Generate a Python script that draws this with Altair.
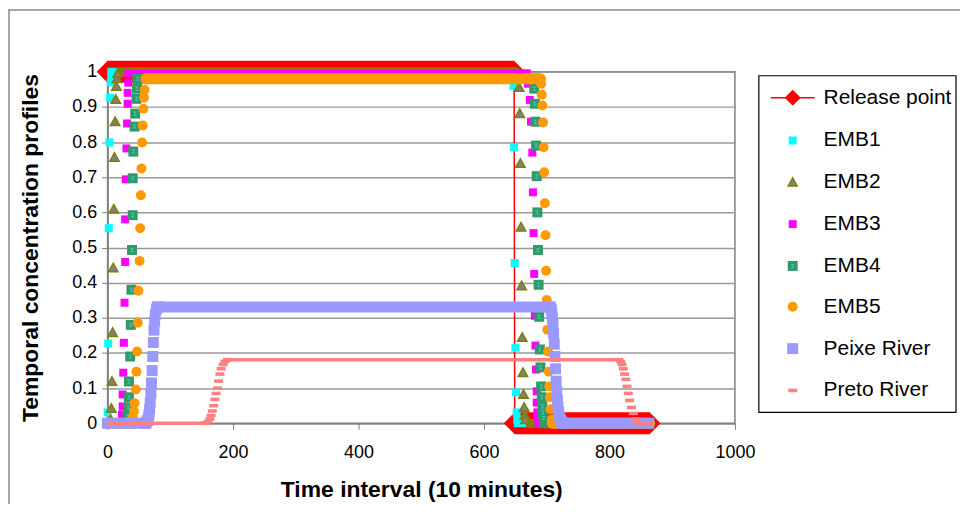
import altair as alt
import pandas as pd

# ---------------- data ----------------
# Release point (line with diamonds): plateau at 1, drop, then 0
release_x = [0, 648, 649, 864]
release_y = [1.0, 1.0, 0.0, 0.0]
release_flat = [(0, 648, 1.0), (649, 864, 0.0)]

emb1_x = [0, 1, 2, 3, 4, 5, 6, 646, 647, 648, 649, 650, 651, 652, 653]
emb1_y = [0.031, 0.227, 0.555, 0.799, 0.926, 0.97, 0.99, 0.99, 0.96, 0.785, 0.456, 0.215, 0.088, 0.031, 0.01]
emb1_flat = [(6, 646, 1.0), (654, 864, 0.0)]

emb2_x = [5, 6, 7, 8, 9, 10, 11, 12, 13, 14, 15, 16,
          655, 656, 657, 658, 659, 660, 661, 662, 663, 664, 665, 666]
emb2_y = [0.01, 0.042, 0.119, 0.258, 0.442, 0.609, 0.756, 0.858, 0.921, 0.958, 0.98, 0.995,
          0.995, 0.955, 0.881, 0.739, 0.558, 0.391, 0.244, 0.144, 0.082, 0.045, 0.022, 0.01]
emb2_flat = [(0, 5, 0.0), (16, 655, 1.0), (667, 864, 0.0)]

emb3_x = [23, 24, 24, 25, 26, 27, 28, 28, 29, 30, 31, 32, 32, 33,
          668, 670, 673, 675, 677, 678, 679, 680, 681, 682, 683, 684, 684, 685, 686]
emb3_y = [0.025, 0.048, 0.082, 0.144, 0.229, 0.343, 0.459, 0.58, 0.694, 0.782, 0.853, 0.909, 0.94, 0.969,
          0.995, 0.966, 0.92, 0.858, 0.77, 0.657, 0.541, 0.425, 0.306, 0.221, 0.153, 0.091, 0.059, 0.031, 0.015]
emb3_flat = [(0, 23, 0.0), (33, 668, 0.995), (687, 864, 0.0)]

emb4_x = [32, 33, 34, 34, 36, 37, 38, 39, 40, 40, 41, 43, 44, 46, 47, 48,
          679, 680, 681, 682, 683, 684, 685, 686, 687, 688, 689, 690, 691, 692, 693, 694, 695]
emb4_y = [0.02, 0.045, 0.074, 0.119, 0.19, 0.28, 0.38, 0.493, 0.592, 0.697, 0.773, 0.844, 0.881, 0.923, 0.952, 0.98,
          0.98, 0.952, 0.909, 0.858, 0.79, 0.703, 0.6, 0.493, 0.394, 0.303, 0.21, 0.159, 0.105, 0.074, 0.048, 0.031, 0.015]
emb4_flat = [(0, 32, 0.0), (48, 679, 0.98), (696, 864, 0.0)]

emb5_x = [40, 42, 43, 45, 46, 47, 48, 49, 51, 52, 53, 54, 55, 56, 57, 58, 59, 61,
          690, 691, 692, 693, 694, 695, 696, 697, 698, 699, 700, 701, 702, 703, 704, 705, 706, 708]
emb5_y = [0.017, 0.034, 0.057, 0.096, 0.147, 0.204, 0.286, 0.377, 0.462, 0.555, 0.649, 0.725, 0.799, 0.847, 0.895, 0.926, 0.949, 0.98,
          0.98, 0.966, 0.935, 0.904, 0.856, 0.785, 0.714, 0.626, 0.535, 0.434, 0.351, 0.266, 0.204, 0.147, 0.105, 0.074, 0.04, 0.011]
emb5_flat = [(0, 40, 0.0), (61, 690, 0.98), (709, 864, 0.0)]

peixe_x = [60, 62, 64, 65, 66, 67, 68, 69, 70, 71, 72, 73, 74, 75, 76, 78, 80,
           705, 707, 708, 709, 710, 711, 712, 713, 714, 715, 716, 717, 718, 719, 720, 722, 724, 727]
peixe_y = [0.0, 0.003, 0.008, 0.015, 0.025, 0.04, 0.06, 0.085, 0.115, 0.15, 0.19, 0.23, 0.265, 0.29, 0.31, 0.325, 0.331,
           0.331, 0.325, 0.315, 0.3, 0.28, 0.255, 0.225, 0.19, 0.155, 0.12, 0.09, 0.065, 0.045, 0.03, 0.018, 0.01, 0.004, 0.0]
peixe_flat = [(0, 60, 0.0), (80, 705, 0.331), (727, 862, 0.0)]

preto_x = [155, 160, 163, 165, 167, 169, 171, 173, 175, 177, 179, 181, 184, 187, 191,
           815, 818, 820, 822, 824, 826, 828, 830, 832, 835, 838, 842, 846]
preto_y = [0.0, 0.005, 0.012, 0.022, 0.035, 0.05, 0.068, 0.085, 0.1, 0.12, 0.14, 0.155, 0.167, 0.176, 0.181,
           0.181, 0.175, 0.167, 0.155, 0.14, 0.125, 0.105, 0.085, 0.065, 0.045, 0.028, 0.012, 0.0]
preto_flat = [(0, 155, 0.0), (191, 815, 0.181), (846, 870, 0.0)]

series_names = ["Release point", "EMB1", "EMB2", "EMB3", "EMB4", "EMB5", "Peixe River", "Preto River"]
x_ticks = [0, 200, 400, 600, 800, 1000]
y_ticks = [0, 0.1, 0.2, 0.3, 0.4, 0.5, 0.6, 0.7, 0.8, 0.9, 1.0]

# ---------------- styles ----------------
FONT = "Liberation Sans"
TRI = "M0,-1L1,0.8L-1,0.8Z"
HOURGLASS = "M-1,-1L1,-1L-1,1L1,1Z"
DASH = "M-1,-0.4L1,-0.4L1,0.4L-1,0.4Z"

xaxis = alt.Axis(values=x_ticks, format="d", title="Time interval (10 minutes)", grid=False,
                 tickSize=6, tickColor="#808080", domainColor="#808080", domainWidth=1.5,
                 labelFont=FONT, labelFontSize=18, labelColor="black", labelPadding=14,
                 labelFlush=False, labelOverlap=False,
                 titleFont=FONT, titleFontSize=23, titleFontWeight="bold", titleColor="black",
                 titleY=67, titleBaseline="middle")
yaxis = alt.Axis(values=y_ticks, format="~g", title="Temporal concentration profiles",
                 grid=True, gridColor="#999999", gridWidth=1.5,
                 tickSize=6, tickColor="#808080", domainColor="#808080", domainWidth=1.5,
                 labelFont=FONT, labelFontSize=18, labelColor="black", labelPadding=5,
                 labelFlush=False, labelOverlap=False,
                 titleFont=FONT, titleFontSize=23, titleFontWeight="bold", titleColor="black",
                 titleX=-77, titleY=176.5, titleAngle=-90, titleAlign="center", titleBaseline="middle")

X = alt.X("x:Q", scale=alt.Scale(domain=[0, 1000], nice=False, zero=False), axis=xaxis)
Y = alt.Y("y:Q", scale=alt.Scale(domain=[0, 1], nice=False), axis=yaxis)


def flat_df(flats):
    rows = []
    for i, (a, b, lvl) in enumerate(flats):
        rows.append({"x": a, "y": lvl, "seg": i})
        rows.append({"x": b, "y": lvl, "seg": i})
    return pd.DataFrame(rows)


def band(flats, color, width, cap):
    return alt.Chart(flat_df(flats)).mark_line(
        color=color, strokeWidth=width, strokeCap=cap, clip=False
    ).encode(x=X, y=Y, detail="seg:N")


def points(xs, ys, **kw):
    base = dict(filled=True, opacity=1, clip=False)
    base.update(kw)
    return alt.Chart(pd.DataFrame({"x": xs, "y": ys})).mark_point(**base).encode(x=X, y=Y)


layers = []
# Release point
layers.append(band(release_flat, "#FF0000", 22, "butt"))
layers.append(alt.Chart(pd.DataFrame({"x": release_x, "y": release_y})).mark_line(
    color="#FF0000", strokeWidth=1.5, clip=False).encode(x=X, y=Y))
layers.append(points(release_x, release_y, shape="diamond", size=484, color="#FF0000", strokeWidth=0))
# EMB1
layers.append(band(emb1_flat, "#00FFFF", 8, "square"))
layers.append(points(emb1_x, emb1_y, shape="square", size=64, color="#00FFFF", strokeWidth=0))
# EMB2
layers.append(band(emb2_flat, "#808000", 8, "butt"))
layers.append(points(emb2_x, emb2_y, shape=TRI, size=90, fill="#808080", stroke="#808000", strokeWidth=1.5))
# EMB3
layers.append(band(emb3_flat, "#FF00FF", 8, "square"))
layers.append(points(emb3_x, emb3_y, shape="square", size=64, color="#FF00FF", strokeWidth=0))
# EMB4
layers.append(band(emb4_flat, "#339966", 10, "square"))
layers.append(points(emb4_x, emb4_y, shape="square", size=100, color="#339966", strokeWidth=0))
layers.append(points(emb4_x, emb4_y, shape=HOURGLASS, size=16, color="#33CCCC", strokeWidth=0))
# EMB5
layers.append(band(emb5_flat, "#FF9900", 11, "round"))
layers.append(points(emb5_x, emb5_y, shape="circle", size=100, color="#FF9900", strokeWidth=0))
# Peixe River
layers.append(band(peixe_flat, "#9999FF", 11, "square"))
layers.append(points(peixe_x, peixe_y, shape="square", size=121, color="#9999FF", strokeWidth=0))
# Preto River
layers.append(band(preto_flat, "#FF8080", 3.6, "butt"))
layers.append(points(preto_x, preto_y, shape=DASH, size=81, color="#FF8080", strokeWidth=0))

# ---------------- outer frame and legend (layout decoration) ----------------
one = pd.DataFrame({"k": [0]})
frame = alt.Chart(one).mark_rect(fill="white", fillOpacity=0, stroke="#8a8a8a", strokeWidth=1.5).encode(
    x=alt.value(-99), x2=alt.value(900), y=alt.value(-62), y2=alt.value(600))
legend_box = alt.Chart(one).mark_rect(fill="white", stroke="black", strokeWidth=1.2).encode(
    x=alt.value(654), x2=alt.value(852), y=alt.value(4), y2=alt.value(342))
layers = [frame] + layers + [legend_box]

row_y = [26, 69, 111, 153, 195, 236, 278, 320]
sym_x = 688
text_x = 719

def leg_sym(i, **kw):
    base = dict(filled=True, opacity=1, clip=False)
    base.update(kw)
    return alt.Chart(one).mark_point(**base).encode(x=alt.value(sym_x), y=alt.value(row_y[i]))

layers.append(alt.Chart(one).mark_rule(color="#FF0000", strokeWidth=1.5).encode(
    x=alt.value(666), x2=alt.value(710), y=alt.value(row_y[0])))
layers.append(leg_sym(0, shape="diamond", size=256, color="#FF0000", strokeWidth=0))
layers.append(leg_sym(1, shape="square", size=64, color="#00FFFF", strokeWidth=0))
layers.append(leg_sym(2, shape=TRI, size=81, fill="#808080", stroke="#808000", strokeWidth=1.5))
layers.append(leg_sym(3, shape="square", size=64, color="#FF00FF", strokeWidth=0))
layers.append(leg_sym(4, shape="square", size=100, color="#339966", strokeWidth=0))
layers.append(leg_sym(4, shape=HOURGLASS, size=16, color="#33CCCC", strokeWidth=0))
layers.append(leg_sym(5, shape="circle", size=100, color="#FF9900", strokeWidth=0))
layers.append(leg_sym(6, shape="square", size=121, color="#9999FF", strokeWidth=0))
layers.append(leg_sym(7, shape=DASH, size=81, color="#FF8080", strokeWidth=0))
for i, nm in enumerate(series_names):
    layers.append(alt.Chart(pd.DataFrame({"name": [nm]})).mark_text(
        align="left", baseline="middle", font=FONT, fontSize=21, color="black").encode(
        text="name:N", x=alt.value(text_x), y=alt.value(row_y[i])))

chart = alt.layer(*layers).properties(
    width=630, height=353,
    autosize=alt.AutoSizeParams(type="none"),
    padding={"left": 100, "top": 63, "right": 226, "bottom": 80},
    background="white",
).configure_view(stroke="#808080", strokeWidth=1.5)

chart.save("out.html", embed_options={"renderer": "svg", "actions": False})
